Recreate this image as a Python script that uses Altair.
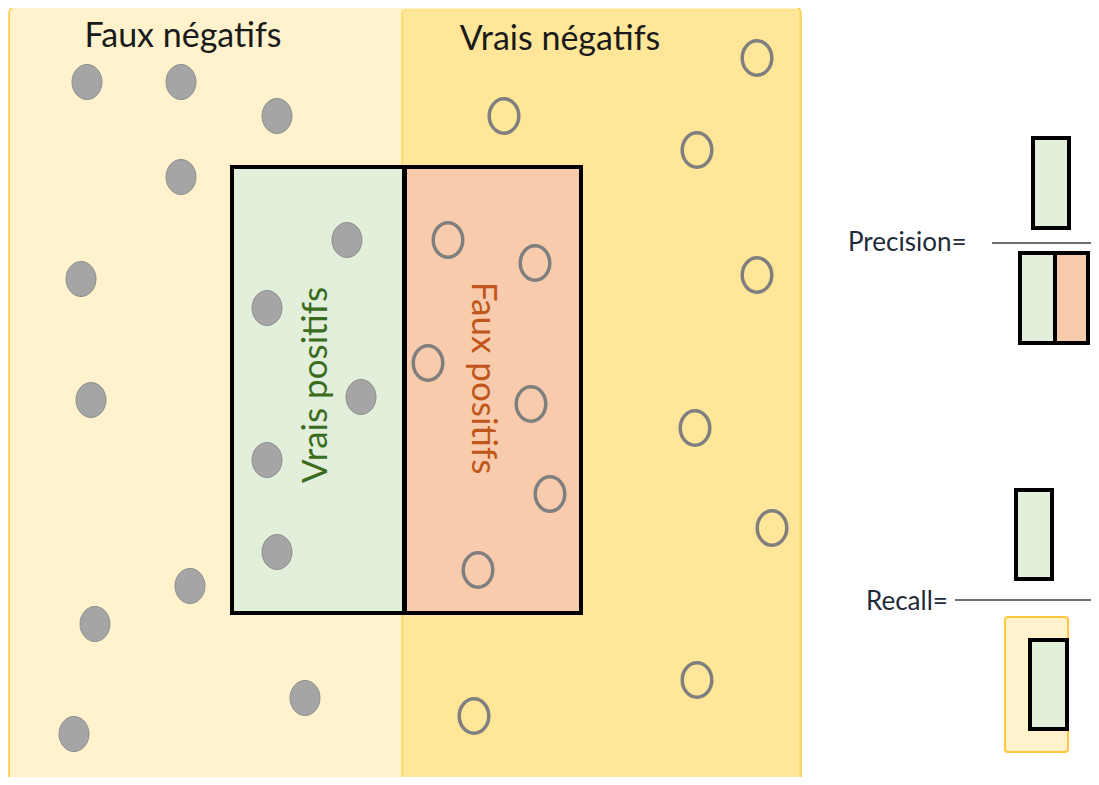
import altair as alt
import pandas as pd

W, H = 1083, 769
X0, Y0 = 8, 8

# ---- points (page pixel coordinates) ----
fn_x = [87, 181, 277, 181, 81, 91, 190, 95, 305, 74]
fn_y = [82, 82, 116, 177, 279, 400, 586, 624, 698, 734]
tp_x = [347, 267, 361, 267, 277]
tp_y = [240, 308, 397, 460, 552]
fp_x = [448, 535, 428, 531, 550, 478]
fp_y = [240, 263, 363, 404, 494, 570]
tn_x = [757, 504, 697, 757, 695, 772, 697, 474]
tn_y = [58, 116, 150, 275, 428, 528, 680, 716]

# ---- boxes ----
outer_box = [9, 801, 7, 783]
right_box = [402, 800, 10, 782]
green_x1 = [232, 1033, 1020, 1016, 1030]
green_x2 = [404, 1069, 1055, 1052, 1067]
green_y1 = [167, 138, 253, 490, 640]
green_y2 = [613, 228, 343, 579, 729]
orange_x1 = [405, 1055]
orange_x2 = [581, 1088]
orange_y1 = [167, 253]
orange_y2 = [613, 343]
recall_den = [1005, 1068, 617, 752]

# ---- fraction lines ----
frac_x1 = [992, 955]
frac_x2 = [1099, 1096]
frac_y = [243, 600]

# ---- labels ----
top_labels = ["Faux négatifs", "Vrais négatifs"]
top_x = [183, 560]
top_y = [47, 50]
formula_labels = ["Precision=", "Recall="]
formula_x = [848, 866]
formula_y = [251, 610]

xs = alt.Scale(domain=[X0, X0 + W], nice=False, zero=False)
ys = alt.Scale(domain=[Y0, Y0 + H], nice=False, zero=False, reverse=True)

ELLIPSE = "M -0.857,0 A 0.857,1 0 1,0 0.857,0 A 0.857,1 0 1,0 -0.857,0 Z"


def rect_layer(df, fill, stroke, sw, radius=0):
    return alt.Chart(df).mark_rect(
        fill=fill, stroke=stroke, strokeWidth=sw, cornerRadius=radius
    ).encode(
        x=alt.X("x1:Q", scale=xs, axis=None),
        x2="x2:Q",
        y=alt.Y("y1:Q", scale=ys, axis=None),
        y2="y2:Q",
    )


def box_df(b):
    return pd.DataFrame({"x1": [b[0]], "x2": [b[1]], "y1": [b[2]], "y2": [b[3]]})


outer = rect_layer(box_df(outer_box), "#FFF2CC", "#FFC83D", 1.5, 6)
right = rect_layer(box_df(right_box), "#FFE699", "#FFD966", 1.2, 4)
rec_den = rect_layer(box_df(recall_den), "#FFF2CC", "#FFC83D", 2, 3)
greens = rect_layer(pd.DataFrame({"x1": green_x1, "x2": green_x2, "y1": green_y1, "y2": green_y2}),
                    "#E2EFDA", "#000000", 4)
oranges = rect_layer(pd.DataFrame({"x1": orange_x1, "x2": orange_x2, "y1": orange_y1, "y2": orange_y2}),
                     "#F8CBAD", "#000000", 4)

divider = alt.Chart(pd.DataFrame({"x": [402.5], "y1": [10], "y2": [783]})).mark_rule(
    color="#FFD966", strokeWidth=1.2
).encode(x=alt.X("x:Q", scale=xs, axis=None), y=alt.Y("y1:Q", scale=ys, axis=None), y2="y2:Q")

fracs = alt.Chart(pd.DataFrame({"x1": frac_x1, "x2": frac_x2, "y": frac_y})).mark_rule(
    color="#404040", strokeWidth=1.5
).encode(x=alt.X("x1:Q", scale=xs, axis=None), x2="x2:Q", y=alt.Y("y:Q", scale=ys, axis=None))

filled = alt.Chart(pd.DataFrame({"x": fn_x + tp_x, "y": fn_y + tp_y})).mark_point(
    shape=ELLIPSE, size=1225, filled=True, fill="#A5A5A5", stroke="#8E8E8E", strokeWidth=1, opacity=1
).encode(x=alt.X("x:Q", scale=xs, axis=None), y=alt.Y("y:Q", scale=ys, axis=None))

hollow = alt.Chart(pd.DataFrame({"x": fp_x + tn_x, "y": fp_y + tn_y})).mark_point(
    shape=ELLIPSE, size=1190, filled=False, stroke="#7F7F7F", strokeWidth=3.5, opacity=1
).encode(x=alt.X("x:Q", scale=xs, axis=None), y=alt.Y("y:Q", scale=ys, axis=None))

FONT = "Lato"

tops = alt.Chart(pd.DataFrame({"x": top_x, "y": top_y, "t": top_labels})).mark_text(
    font=FONT, fontSize=34, color="#1a1a1a", align="center", baseline="alphabetic"
).encode(x=alt.X("x:Q", scale=xs, axis=None), y=alt.Y("y:Q", scale=ys, axis=None), text="t:N")

vp = alt.Chart(pd.DataFrame({"x": [327], "y": [385], "t": ["Vrais positifs"]})).mark_text(
    font=FONT, fontSize=35, color="#3B6B1E", align="center", baseline="alphabetic", angle=270
).encode(x=alt.X("x:Q", scale=xs, axis=None), y=alt.Y("y:Q", scale=ys, axis=None), text="t:N")

fp = alt.Chart(pd.DataFrame({"x": [472], "y": [378], "t": ["Faux positifs"]})).mark_text(
    font=FONT, fontSize=35, color="#C0561A", align="center", baseline="alphabetic", angle=90
).encode(x=alt.X("x:Q", scale=xs, axis=None), y=alt.Y("y:Q", scale=ys, axis=None), text="t:N")

formulas = alt.Chart(pd.DataFrame({"x": formula_x, "y": formula_y, "t": formula_labels})).mark_text(
    font=FONT, fontSize=26, color="#1f2a3a", align="left", baseline="alphabetic"
).encode(x=alt.X("x:Q", scale=xs, axis=None), y=alt.Y("y:Q", scale=ys, axis=None), text="t:N")

chart = alt.layer(
    outer, right, divider, rec_den, greens, oranges, fracs, filled, hollow, tops, vp, fp, formulas
).properties(
    width=W, height=H, padding=0, background="white",
    autosize=alt.AutoSizeParams(type="none"),
).configure_view(stroke=None)

chart.save("out.html", embed_options={"renderer": "svg", "actions": False})
